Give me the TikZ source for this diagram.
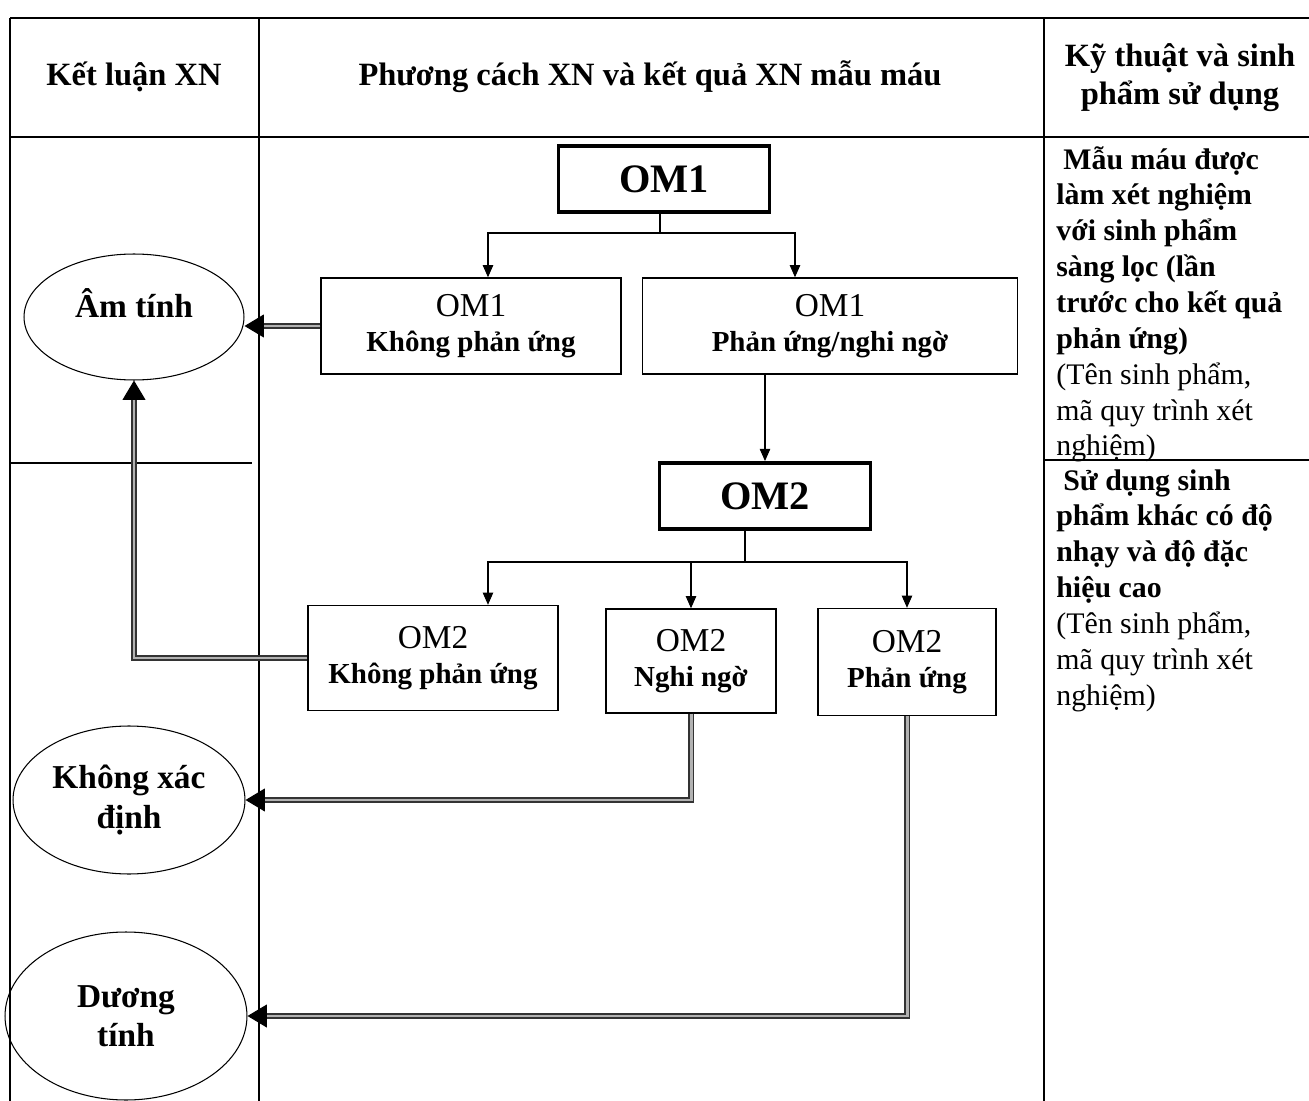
\documentclass[tikz,border=0pt]{standalone}
\usepackage{fontspec}
\setmainfont{Liberation Serif}
\usetikzlibrary{arrows.meta,shapes.geometric}

\begin{document}
\begin{tikzpicture}[
    x=0.02cm, y=-0.02cm,
    grid/.style={line width=0.9pt},
    headtext/.style={
        font=\fontsize{18.5}{21.5}\selectfont\bfseries,
        align=center,
        inner sep=0pt
    },
    notetext/.style={
        font=\fontsize{17}{20.4}\selectfont,
        align=left,
        anchor=north west,
        inner sep=0pt
    },
    testbox/.style={
        draw,
        line width=2.2pt,
        minimum width=4.22cm,
        minimum height=1.32cm,
        inner sep=0pt,
        font=\fontsize{23}{26}\selectfont\bfseries
    },
    resbox/.style={
        draw,
        line width=0.8pt,
        align=center,
        inner sep=0pt,
        font=\fontsize{19}{20}\selectfont
    },
    verdict/.style={
        draw,
        ellipse,
        line width=0.6pt,
        align=center,
        inner sep=0pt,
        font=\fontsize{19}{22.5}\selectfont\bfseries
    },
    arrow/.style={-{Triangle[length=7pt,width=6pt]}, line width=0.6pt},
    dblarrow/.style={
        -{Triangle[length=11pt,width=13pt,black]},
        draw=black!80,
        double=gray!60,
        double distance=1.7pt,
        line width=0.6pt
    }
]
\useasboundingbox (0,0) rectangle (1309,1101);

% ---------------------------------------------------------------------------
% Table frame
% ---------------------------------------------------------------------------
\draw[grid, line width=1.4pt] (10,18) -- (1309,18);
\draw[grid] (10,18) -- (10,1101);
\draw[grid] (259,18) -- (259,1101);
\draw[grid] (1044,18) -- (1044,1101);
\draw[grid] (10,137) -- (1309,137);
\draw[grid] (10,463) -- (252,463);
\draw[grid] (1044,460) -- (1309,460);

% ---------------------------------------------------------------------------
% Header row
% ---------------------------------------------------------------------------
\node[headtext] (hconcl) at (134,77) {Kết luận XN};
\node[headtext] (hmethod) at (650,77) {Phương cách XN và kết quả XN mẫu máu};
\node[headtext] (htech) at (1180,78) {Kỹ thuật và sinh\\phẩm sử dụng};

% ---------------------------------------------------------------------------
% Right column notes
% ---------------------------------------------------------------------------
\node[notetext] (note1) at (1056,146)
    {\textbf{\hspace{4pt}Mẫu máu được}\\
    \textbf{làm xét nghiệm}\\
    \textbf{với sinh phẩm}\\
    \textbf{sàng lọc (lần}\\
    \textbf{trước cho kết quả}\\
    \textbf{phản ứng)}\\
    (Tên sinh phẩm,\\
    mã quy trình xét\\
    nghiệm)};

\node[notetext] (note2) at (1056,469)
    {\textbf{\hspace{4pt}Sử dụng sinh}\\
    \textbf{phẩm khác có độ}\\
    \textbf{nhạy và độ đặc}\\
    \textbf{hiệu cao}\\
    (Tên sinh phẩm,\\
    mã quy trình xét\\
    nghiệm)};

% ---------------------------------------------------------------------------
% Test steps
% ---------------------------------------------------------------------------
\node[testbox] (om1) at (664,179) {OM1};

\node[resbox, minimum width=6.0cm, minimum height=1.92cm] (om1neg) at (471,326)
    {OM1\\{\fontsize{16.5}{19}\selectfont\bfseries Không phản ứng}};
\node[resbox, minimum width=7.5cm, minimum height=1.92cm] (om1pos) at (830,326)
    {OM1\\{\fontsize{16.5}{19}\selectfont\bfseries Phản ứng/nghi ngờ}};

\node[testbox] (om2) at (765,496) {OM2};

\node[resbox, minimum width=5.0cm, minimum height=2.1cm] (om2neg) at (433,658)
    {OM2\\{\fontsize{16.5}{19}\selectfont\bfseries Không phản ứng}};
\node[resbox, minimum width=3.4cm, minimum height=2.08cm] (om2ind) at (691,661)
    {OM2\\{\fontsize{16.5}{19}\selectfont\bfseries Nghi ngờ}};
\node[resbox, minimum width=3.56cm, minimum height=2.14cm] (om2pos) at (907,662)
    {OM2\\{\fontsize{16.5}{19}\selectfont\bfseries Phản ứng}};

% ---------------------------------------------------------------------------
% Conclusions
% ---------------------------------------------------------------------------
\node[verdict, minimum width=4.4cm, minimum height=2.52cm] (neg) at (134,317) {\raisebox{16pt}{Âm tính}};
\node[verdict, minimum width=4.64cm, minimum height=2.96cm] (undet) at (129,800) {Không xác\\định};
\node[verdict, minimum width=4.84cm, minimum height=3.36cm] (pos) at (126,1016) {Dương\\tính};

% ---------------------------------------------------------------------------
% Arrows - OM1 branch
% ---------------------------------------------------------------------------
\coordinate (split1) at (660,233);
\draw[line width=0.6pt] (om1.south -| split1) -- (split1);
\draw[arrow] (split1) -| ([xshift=0.34cm]om1neg.north);
\draw[arrow] (split1) -| ([xshift=-0.7cm]om1pos.north);
\draw[arrow] (om1pos.south -| om2.north) -- (om2.north);

% ---------------------------------------------------------------------------
% Arrows - OM2 branch
% ---------------------------------------------------------------------------
\coordinate (split2) at (745,562);
\draw[line width=0.6pt] (om2.south -| split2) -- (split2);
\draw[arrow] (split2) -| ([xshift=1.1cm]om2neg.north);
\draw[arrow] (split2) -| (om2ind.north);
\draw[arrow] (split2) -| (om2pos.north);

% ---------------------------------------------------------------------------
% Arrows - results to conclusions
% ---------------------------------------------------------------------------
\draw[dblarrow] (om1neg.west) -- (neg.east |- om1neg.west);
\draw[dblarrow] (om2neg.west) -| (neg.south);
\draw[dblarrow] (om2ind.south) |- (undet.east);
\draw[dblarrow] (om2pos.south) |- (pos.east);

\end{tikzpicture}
\end{document}
